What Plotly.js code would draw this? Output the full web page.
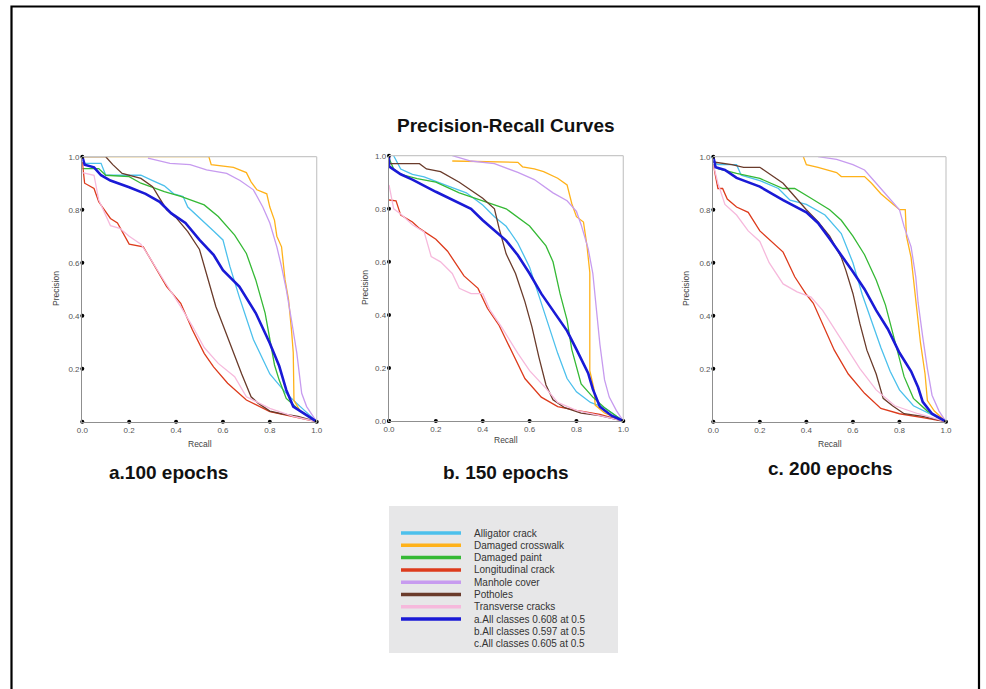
<!DOCTYPE html>
<html>
<head>
<meta charset="utf-8">
<script src="https://cdn.plot.ly/plotly-3.0.1.min.js"></script>
<style>html,body{margin:0;padding:0;background:#fff;}#chart{width:986px;height:689px;}</style>
</head>
<body>
<div id="chart"></div>
<script>
// ---------- class names & colours ----------
const classNames = ["Alligator crack","Damaged crosswalk","Damaged paint","Longitudinal crack","Manhole cover","Potholes","Transverse cracks"];
const classColors = ["#4cc0ec","#ffb21a","#35b935","#dd3b1c","#c79bef","#6a3b2b","#f6b9dc"];
const allLabel = ["a.All classes 0.608 at 0.5","b.All classes 0.597 at 0.5","c.All classes 0.605 at 0.5"];
const allColor = "#1a1ad6";
const panelLabels = ["a.100 epochs","b. 150 epochs","c. 200 epochs"];
const xTicks = [0,0.2,0.4,0.6,0.8,1.0];
const yTicksA = [0.2,0.4,0.6,0.8,1.0];
const yTicksB = [0,0.2,0.4,0.6,0.8,1.0];
const yTicksC = [0.2,0.4,0.6,0.8,1.0];

// ---------- a. 100 epochs ----------
const a_alligator_r = [0,0.08,0.1,0.25,0.3,0.35,0.39,0.43,0.45,0.5,0.56,0.6,0.63,0.67,0.73,0.8,0.87,0.93,1];
const a_alligator_p = [0.975,0.975,0.93,0.93,0.91,0.89,0.86,0.85,0.81,0.77,0.72,0.686,0.585,0.47,0.31,0.18,0.107,0.057,0];
const a_crosswalk_r = [0,0.54,0.55,0.645,0.7,0.72,0.745,0.787,0.8,0.82,0.83,0.85,0.865,0.88,0.893,0.9,0.903,0.93,1];
const a_crosswalk_p = [1,1,0.97,0.96,0.94,0.905,0.875,0.86,0.81,0.76,0.7,0.66,0.535,0.46,0.34,0.26,0.08,0.04,0];
const a_paint_r = [0,0.07,0.1,0.2,0.25,0.35,0.42,0.46,0.52,0.58,0.65,0.7,0.74,0.78,0.82,0.84,0.87,0.93,1];
const a_paint_p = [0.955,0.955,0.93,0.925,0.9,0.868,0.85,0.836,0.818,0.774,0.704,0.635,0.535,0.41,0.214,0.157,0.088,0.04,0];
const a_longitudinal_r = [0,0.01,0.05,0.07,0.12,0.15,0.2,0.26,0.3,0.36,0.42,0.47,0.52,0.56,0.62,0.7,0.8,0.9,1];
const a_longitudinal_p = [0.98,0.9,0.88,0.83,0.767,0.75,0.67,0.66,0.6,0.51,0.447,0.346,0.258,0.207,0.145,0.082,0.038,0.02,0];
const a_manhole_r = [0.28,0.374,0.46,0.53,0.616,0.673,0.73,0.77,0.8,0.83,0.85,0.87,0.893,0.915,0.936,0.957,1];
const a_manhole_p = [0.995,0.975,0.97,0.95,0.937,0.91,0.875,0.81,0.75,0.66,0.585,0.5,0.38,0.26,0.107,0.057,0];
const a_potholes_r = [0,0.1,0.13,0.17,0.25,0.3,0.33,0.36,0.4,0.45,0.5,0.53,0.57,0.6,0.64,0.68,0.72,0.75,0.8,0.85,0.92,1];
const a_potholes_p = [1,1,0.97,0.937,0.918,0.887,0.843,0.8,0.77,0.717,0.65,0.56,0.434,0.365,0.27,0.18,0.094,0.07,0.04,0.03,0.02,0];
const a_transverse_r = [0,0.05,0.07,0.12,0.16,0.2,0.25,0.28,0.35,0.42,0.47,0.52,0.58,0.65,0.7,0.8,0.9,1];
const a_transverse_p = [0.94,0.93,0.837,0.74,0.73,0.7,0.67,0.63,0.53,0.434,0.36,0.28,0.22,0.17,0.094,0.05,0.02,0];
const a_all_r = [0,0.01,0.05,0.08,0.12,0.2,0.27,0.33,0.38,0.44,0.5,0.56,0.6,0.67,0.74,0.8,0.84,0.87,0.9,0.95,1];
const a_all_p = [1,0.97,0.96,0.93,0.91,0.885,0.86,0.83,0.786,0.75,0.686,0.63,0.572,0.51,0.41,0.296,0.21,0.12,0.057,0.03,0];

// ---------- b. 150 epochs ----------
const b_alligator_r = [0.02,0.05,0.1,0.15,0.25,0.33,0.4,0.45,0.5,0.55,0.6,0.64,0.68,0.72,0.76,0.8,0.86,0.92,1];
const b_alligator_p = [1,0.95,0.93,0.92,0.886,0.86,0.814,0.77,0.734,0.67,0.58,0.47,0.368,0.255,0.16,0.11,0.07,0.05,0];
const b_crosswalk_r = [0.27,0.55,0.57,0.62,0.66,0.72,0.76,0.78,0.8,0.83,0.845,0.857,0.857,0.875,0.88,0.92,1];
const b_crosswalk_p = [0.98,0.975,0.958,0.95,0.94,0.915,0.89,0.82,0.77,0.75,0.66,0.56,0.19,0.12,0.06,0.03,0];
const b_paint_r = [0,0.02,0.05,0.12,0.2,0.3,0.4,0.5,0.6,0.67,0.7,0.73,0.76,0.78,0.82,0.87,0.92,1];
const b_paint_p = [0.99,0.95,0.93,0.914,0.9,0.86,0.83,0.8,0.735,0.66,0.6,0.48,0.38,0.27,0.14,0.09,0.05,0];
const b_longitudinal_r = [0,0.03,0.05,0.1,0.13,0.2,0.25,0.32,0.38,0.42,0.47,0.52,0.58,0.65,0.72,0.8,0.9,1];
const b_longitudinal_p = [0.833,0.83,0.776,0.75,0.726,0.685,0.64,0.547,0.5,0.425,0.36,0.27,0.16,0.09,0.054,0.04,0.025,0];
const b_manhole_r = [0.27,0.35,0.45,0.55,0.62,0.7,0.76,0.8,0.82,0.85,0.87,0.885,0.9,0.92,0.94,0.97,1];
const b_manhole_p = [1,0.98,0.97,0.937,0.91,0.86,0.83,0.79,0.74,0.65,0.556,0.42,0.29,0.155,0.09,0.04,0];
const b_potholes_r = [0,0.13,0.16,0.22,0.3,0.35,0.4,0.45,0.47,0.5,0.54,0.58,0.61,0.64,0.67,0.7,0.75,0.82,0.9,1];
const b_potholes_p = [0.97,0.97,0.95,0.94,0.9,0.87,0.84,0.8,0.726,0.63,0.556,0.45,0.355,0.24,0.136,0.08,0.05,0.03,0.02,0];
const b_transverse_r = [0,0.02,0.05,0.1,0.15,0.18,0.22,0.27,0.3,0.35,0.4,0.43,0.48,0.55,0.6,0.67,0.72,0.8,0.9,1];
const b_transverse_p = [0.89,0.8,0.78,0.74,0.713,0.62,0.6,0.556,0.5,0.48,0.48,0.42,0.355,0.255,0.19,0.123,0.07,0.04,0.02,0];
const b_all_r = [0,0,0.05,0.1,0.2,0.3,0.35,0.4,0.5,0.55,0.6,0.65,0.7,0.76,0.8,0.85,0.87,0.9,0.95,1];
const b_all_p = [1,0.96,0.93,0.91,0.864,0.82,0.8,0.757,0.68,0.625,0.556,0.48,0.418,0.34,0.27,0.18,0.12,0.054,0.02,0];

// ---------- c. 200 epochs ----------
const c_alligator_r = [0,0.02,0.1,0.12,0.2,0.28,0.33,0.4,0.48,0.55,0.6,0.64,0.68,0.72,0.76,0.8,0.86,0.93,1];
const c_alligator_p = [0.98,0.97,0.97,0.93,0.91,0.88,0.836,0.82,0.78,0.71,0.6,0.48,0.38,0.28,0.19,0.12,0.06,0.03,0];
const c_crosswalk_r = [0.387,0.4,0.45,0.53,0.55,0.65,0.68,0.72,0.76,0.8,0.825,0.83,0.85,0.87,0.89,0.91,0.92,0.95,1];
const c_crosswalk_p = [1,0.97,0.96,0.94,0.925,0.925,0.9,0.86,0.83,0.8,0.8,0.7,0.62,0.447,0.3,0.18,0.08,0.04,0];
const c_paint_r = [0,0.02,0.1,0.2,0.3,0.35,0.42,0.5,0.55,0.6,0.65,0.7,0.74,0.78,0.82,0.86,0.92,1];
const c_paint_p = [0.97,0.955,0.937,0.918,0.88,0.88,0.843,0.8,0.76,0.7,0.63,0.535,0.44,0.31,0.17,0.088,0.04,0];
const c_longitudinal_r = [0,0.02,0.04,0.06,0.1,0.15,0.2,0.25,0.3,0.35,0.4,0.43,0.47,0.52,0.58,0.65,0.72,0.8,0.9,1];
const c_longitudinal_p = [0.97,0.88,0.88,0.84,0.81,0.79,0.72,0.68,0.64,0.547,0.48,0.447,0.37,0.27,0.18,0.107,0.05,0.03,0.015,0];
const c_manhole_r = [0.45,0.53,0.6,0.65,0.7,0.75,0.8,0.82,0.85,0.87,0.88,0.9,0.92,0.94,0.97,1];
const c_manhole_p = [1,0.99,0.97,0.95,0.9,0.85,0.8,0.736,0.66,0.547,0.45,0.32,0.2,0.1,0.04,0];
const c_potholes_r = [0,0.08,0.13,0.2,0.25,0.3,0.35,0.4,0.45,0.5,0.55,0.57,0.6,0.63,0.66,0.7,0.73,0.77,0.82,0.9,1];
const c_potholes_p = [0.98,0.97,0.96,0.96,0.93,0.9,0.85,0.8,0.755,0.7,0.62,0.57,0.484,0.37,0.27,0.18,0.088,0.06,0.03,0.02,0];
const c_transverse_r = [0,0.02,0.05,0.1,0.15,0.2,0.24,0.3,0.36,0.42,0.47,0.52,0.58,0.63,0.7,0.78,0.88,1];
const c_transverse_p = [0.97,0.9,0.82,0.78,0.72,0.68,0.6,0.52,0.49,0.47,0.42,0.35,0.27,0.2,0.12,0.06,0.03,0];
const c_all_r = [0,0.01,0.05,0.1,0.2,0.3,0.4,0.45,0.5,0.55,0.6,0.65,0.7,0.75,0.8,0.85,0.88,0.9,0.94,1];
const c_all_p = [1,0.96,0.95,0.92,0.887,0.836,0.79,0.75,0.69,0.63,0.566,0.5,0.42,0.35,0.26,0.19,0.13,0.075,0.03,0];

// ---------- assemble ----------
const W = 986, H = 689;
const px = v => v / W;
const py = v => 1 - v / H;

const panels = [
  {ax:"", curves:[[a_alligator_r,a_alligator_p],[a_crosswalk_r,a_crosswalk_p],[a_paint_r,a_paint_p],[a_longitudinal_r,a_longitudinal_p],[a_manhole_r,a_manhole_p],[a_potholes_r,a_potholes_p],[a_transverse_r,a_transverse_p]], all:[a_all_r,a_all_p], yt:yTicksA,
   box:[82.3,316.7,156.7,421.7], ptitle:[56,289], rtitle:[199.5,444], label:[168,472]},
  {ax:"2", curves:[[b_alligator_r,b_alligator_p],[b_crosswalk_r,b_crosswalk_p],[b_paint_r,b_paint_p],[b_longitudinal_r,b_longitudinal_p],[b_manhole_r,b_manhole_p],[b_potholes_r,b_potholes_p],[b_transverse_r,b_transverse_p]], all:[b_all_r,b_all_p], yt:yTicksB,
   box:[389,623.3,155.7,421], ptitle:[365,288], rtitle:[506,440], label:[506,472]},
  {ax:"3", curves:[[c_alligator_r,c_alligator_p],[c_crosswalk_r,c_crosswalk_p],[c_paint_r,c_paint_p],[c_longitudinal_r,c_longitudinal_p],[c_manhole_r,c_manhole_p],[c_potholes_r,c_potholes_p],[c_transverse_r,c_transverse_p]], all:[c_all_r,c_all_p], yt:yTicksC,
   box:[713.3,946,156.7,421.7], ptitle:[686,289], rtitle:[829.6,444], label:[830,468]}
];

const FONT = "Liberation Sans, Arial, sans-serif";
const traces = [];
const layout = {
  width: W, height: H,
  margin: {l:0, r:0, t:0, b:0},
  paper_bgcolor: "#ffffff", plot_bgcolor: "#ffffff",
  showlegend: false,
  font: {family: FONT, color: "#444"},
  shapes: [], annotations: []
};

panels.forEach((p, i) => {
  const xa = "x" + p.ax, ya = "y" + p.ax;
  p.curves.forEach((c, k) => {
    traces.push({type:"scatter", mode:"lines", x:c[0], y:c[1], xaxis:xa, yaxis:ya,
      line:{color:classColors[k], width:1.3}, hoverinfo:"skip"});
  });
  traces.push({type:"scatter", mode:"lines", x:p.all[0], y:p.all[1], xaxis:xa, yaxis:ya,
    line:{color:allColor, width:2.6}, hoverinfo:"skip"});
  // tick dots
  traces.push({type:"scatter", mode:"markers", x:xTicks, y:xTicks.map(()=>0), xaxis:xa, yaxis:ya,
    marker:{color:"#000", size:4}, cliponaxis:false, hoverinfo:"skip"});
  traces.push({type:"scatter", mode:"markers", x:p.yt.map(()=>0), y:p.yt, xaxis:xa, yaxis:ya,
    marker:{color:"#000", size:4}, cliponaxis:false, hoverinfo:"skip"});

  const [x0,x1,yt,yb] = p.box;
  layout["xaxis" + p.ax] = {domain:[px(x0), px(x1)], range:[0,1], anchor:ya,
    tickvals:xTicks, ticktext:xTicks.map(v=>v.toFixed(1)), ticks:"", showgrid:false, zeroline:false,
    showline:true, linecolor:"#8f8f8f", linewidth:1.2, tickfont:{size:8, color:"#555", family:FONT}, fixedrange:true};
  layout["yaxis" + p.ax] = {domain:[py(yb), py(yt)], range:[0,1], anchor:xa,
    tickvals:p.yt, ticktext:p.yt.map(v=>v.toFixed(1)), ticks:"", showgrid:false, zeroline:false,
    showline:true, linecolor:"#8f8f8f", linewidth:1.2, tickfont:{size:8, color:"#555", family:FONT}, fixedrange:true};
  // top & right light border
  layout.shapes.push({type:"line", xref:"paper", yref:"paper", x0:px(x0), x1:px(x1), y0:py(yt), y1:py(yt), line:{color:"#c8c8c8", width:1.2}});
  layout.shapes.push({type:"line", xref:"paper", yref:"paper", x0:px(x1), x1:px(x1), y0:py(yt), y1:py(yb), line:{color:"#c8c8c8", width:1.2}});
  // axis titles
  layout.annotations.push({text:"Recall", xref:"paper", yref:"paper", x:px(p.rtitle[0]), y:py(p.rtitle[1]),
    xanchor:"center", yanchor:"middle", showarrow:false, font:{size:8.5, color:"#444", family:FONT}});
  layout.annotations.push({text:"Precision", xref:"paper", yref:"paper", x:px(p.ptitle[0]), y:py(p.ptitle[1]),
    xanchor:"center", yanchor:"middle", showarrow:false, textangle:-90, font:{size:8.5, color:"#444", family:FONT}});
  layout.annotations.push({text:"<b>" + panelLabels[i] + "</b>", xref:"paper", yref:"paper", x:px(p.label[0]), y:py(p.label[1]),
    xanchor:"center", yanchor:"middle", showarrow:false, font:{size:19, color:"#111", family:FONT}});
});

// title
layout.annotations.push({text:"<b>Precision-Recall Curves</b>", xref:"paper", yref:"paper", x:px(506), y:py(125),
  xanchor:"center", yanchor:"middle", showarrow:false, font:{size:19, color:"#111", family:FONT}});

// outer frame
layout.shapes.push({type:"rect", xref:"paper", yref:"paper", x0:px(11.5), x1:px(979), y0:-0.02, y1:py(6.5),
  line:{color:"#000", width:2.2}, fillcolor:"rgba(0,0,0,0)", layer:"below"});

// legend box
layout.shapes.push({type:"rect", xref:"paper", yref:"paper", x0:px(389), x1:px(618), y0:py(653), y1:py(506),
  line:{width:0}, fillcolor:"#e7e7e8", layer:"below"});
const legendRowsY = [533, 545.3, 557.6, 569.9, 582.2, 594.5, 606.8, 619.1, 631.4, 643.7];
const legendNames = classNames.concat(allLabel);
const legendLineColors = classColors.concat([allColor]);
legendLineColors.forEach((col, k) => {
  layout.shapes.push({type:"line", xref:"paper", yref:"paper", x0:px(401), x1:px(461),
    y0:py(legendRowsY[k]), y1:py(legendRowsY[k]), line:{color:col, width:3.5}});
});
legendNames.forEach((name, k) => {
  layout.annotations.push({text:name, xref:"paper", yref:"paper", x:px(472), y:py(legendRowsY[k]),
    xanchor:"left", yanchor:"middle", showarrow:false, font:{size:10, color:"#333", family:FONT}});
});

Plotly.newPlot("chart", traces, layout, {staticPlot:true, displayModeBar:false});
</script>
</body>
</html>
